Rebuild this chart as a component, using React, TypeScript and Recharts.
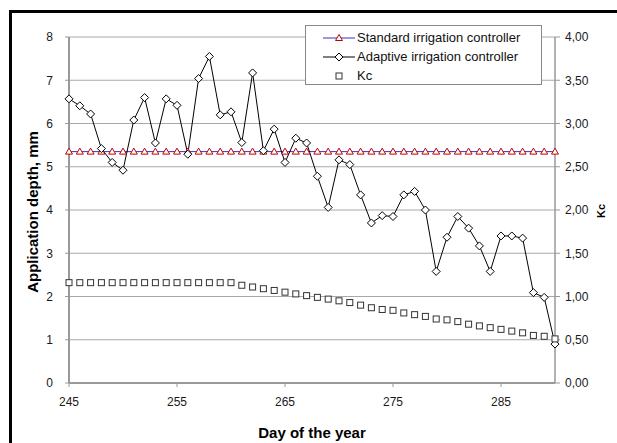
import {
  ComposedChart,
  Line,
  XAxis,
  YAxis,
  CartesianGrid,
  Legend,
} from "recharts";

const DAYS = [
  245, 246, 247, 248, 249, 250, 251, 252, 253, 254, 255, 256, 257, 258, 259, 260,
  261, 262, 263, 264, 265, 266, 267, 268, 269, 270, 271, 272, 273, 274, 275, 276,
  277, 278, 279, 280, 281, 282, 283, 284, 285, 286, 287, 288, 289, 290,
];

const ADAPTIVE = [
  6.57, 6.41, 6.22, 5.42, 5.1, 4.92, 6.08, 6.6, 5.55, 6.57, 6.42, 5.29, 7.04, 7.55, 6.2, 6.27,
  5.56, 7.17, 5.37, 5.87, 5.1, 5.66, 5.55, 4.78, 4.06, 5.16, 5.05, 4.35, 3.7, 3.87, 3.85, 4.35,
  4.43, 4.0, 2.58, 3.37, 3.85, 3.58, 3.17, 2.58, 3.4, 3.4, 3.35, 2.09, 1.98, 0.9,
];

const KC = [
  1.16, 1.16, 1.16, 1.16, 1.16, 1.16, 1.16, 1.16, 1.16, 1.16, 1.16, 1.16, 1.16, 1.16, 1.16, 1.16,
  1.13, 1.11, 1.09, 1.07, 1.05, 1.03, 1.01, 0.99, 0.97, 0.95, 0.93, 0.9, 0.87, 0.85, 0.84, 0.81,
  0.79, 0.77, 0.74, 0.73, 0.71, 0.68, 0.66, 0.64, 0.62, 0.6, 0.58, 0.55, 0.54, 0.51,
];

// the standard controller applies the same depth every day
const STANDARD_DEPTH = 5.35;

const X_TICKS = [245, 255, 265, 275, 285];
const LEFT_TICKS = [0, 1, 2, 3, 4, 5, 6, 7, 8];
const RIGHT_TICKS = [0, 0.5, 1, 1.5, 2, 2.5, 3, 3.5, 4];

const SERIES = [
  { key: "standard", name: "Standard irrigation controller" },
  { key: "adaptive", name: "Adaptive irrigation controller" },
  { key: "kc", name: "Kc" },
];

const data = DAYS.map((day, i) => ({
  day,
  standard: STANDARD_DEPTH,
  adaptive: ADAPTIVE[i],
  kc: KC[i],
}));

const FONT = "'Liberation Sans', Arial, sans-serif";
const AXIS = "#999999";
const GRID = "#a8a8a8";
const TICK = { fontSize: 12, fill: "#1a1a1a", fontFamily: FONT };

function Triangle({ cx, cy }: any) {
  if (cx == null || cy == null) return null;
  return (
    <polygon
      points={`${cx},${cy - 3.5} ${cx - 3.5},${cy + 2.5} ${cx + 3.5},${cy + 2.5}`}
      fill="#fff"
      stroke="#c00000"
      strokeWidth={1}
    />
  );
}

function Diamond({ cx, cy }: any) {
  if (cx == null || cy == null) return null;
  return (
    <polygon
      points={`${cx},${cy - 4} ${cx + 4},${cy} ${cx},${cy + 4} ${cx - 4},${cy}`}
      fill="#fff"
      stroke="#000"
      strokeWidth={1}
    />
  );
}

function Square({ cx, cy }: any) {
  if (cx == null || cy == null) return null;
  return <rect x={cx - 3} y={cy - 3} width={6} height={6} fill="#fff" stroke="#333" strokeWidth={1} />;
}

function LegendSample({ k }: { k: string }) {
  return (
    <svg width={32} height={12} style={{ display: "block" }}>
      {k === "standard" && <line x1={0} y1={6} x2={32} y2={6} stroke="#3333cc" />}
      {k === "adaptive" && <line x1={0} y1={6} x2={32} y2={6} stroke="#000" />}
      {k === "standard" && <Triangle cx={16} cy={6} />}
      {k === "adaptive" && <Diamond cx={16} cy={6} />}
      {k === "kc" && <Square cx={16} cy={6} />}
    </svg>
  );
}

function LegendBox() {
  return (
    <div
      style={{
        boxSizing: "border-box",
        width: 237,
        height: 60,
        border: "1px solid #888",
        background: "#fff",
        padding: "2px 0 0 17px",
        fontFamily: FONT,
        fontSize: 13,
        color: "#111",
      }}
    >
      {SERIES.map((s) => (
        <div key={s.key} style={{ display: "flex", alignItems: "center", height: 19 }}>
          <LegendSample k={s.key} />
          <span style={{ marginLeft: 2 }}>{s.name}</span>
        </div>
      ))}
    </div>
  );
}

const fmtKc = (v: number) => v.toFixed(2).replace(".", ",");

export default function App() {
  return (
    <div style={{ position: "absolute", left: 0, top: 0, width: 617, height: 443, background: "#fff" }}>
      <div
        style={{
          position: "absolute",
          left: 9,
          top: 10,
          width: 620,
          height: 440,
          borderLeft: "3px solid #000",
          borderTop: "3px solid #000",
        }}
      />
      <div style={{ position: "absolute", left: 0, top: 0 }}>
        <ComposedChart
          width={617}
          height={443}
          data={data}
          margin={{ top: 37, right: 22, bottom: 20, left: 24 }}
        >
          <CartesianGrid yAxisId="left" vertical={false} stroke={GRID} strokeWidth={1} />
          <XAxis
            dataKey="day"
            type="number"
            domain={[245, 290]}
            ticks={X_TICKS}
            height={40}
            tick={TICK}
            tickSize={4}
            tickMargin={10}
            stroke={AXIS}
            axisLine={{ stroke: AXIS, strokeWidth: 2 }}
            label={{
              content: () => (
                <text x={312} y={438} textAnchor="middle" fontFamily={FONT} fontSize={15} fontWeight="bold" fill="#000">
                  Day of the year
                </text>
              ),
            }}
          />
          <YAxis
            yAxisId="left"
            domain={[0, 8]}
            ticks={LEFT_TICKS}
            width={45}
            tick={TICK}
            tickSize={4}
            tickMargin={12}
            stroke={AXIS}
            axisLine={{ stroke: AXIS, strokeWidth: 2 }}
            label={{
              content: () => (
                <text
                  x={38}
                  y={212}
                  transform="rotate(-90 38 212)"
                  textAnchor="middle"
                  fontFamily={FONT}
                  fontSize={15}
                  fontWeight="bold"
                  fill="#000"
                >
                  Application depth, mm
                </text>
              ),
            }}
          />
          <YAxis
            yAxisId="right"
            orientation="right"
            domain={[0, 4]}
            ticks={RIGHT_TICKS}
            tickFormatter={fmtKc}
            width={40}
            tick={TICK}
            tickSize={5}
            tickMargin={5}
            stroke={AXIS}
            axisLine={{ stroke: AXIS, strokeWidth: 1.5 }}
            label={{
              content: () => (
                <text
                  x={605}
                  y={211}
                  transform="rotate(-90 605 211)"
                  textAnchor="middle"
                  fontFamily={FONT}
                  fontSize={11}
                  fontWeight="bold"
                  fill="#000"
                >
                  Kc
                </text>
              ),
            }}
          />
          <Legend
            verticalAlign="middle"
            content={() => <LegendBox />}
            wrapperStyle={{ left: 305, top: 25, width: 237, height: 60 }}
          />
          <Line
            yAxisId="left"
            dataKey="standard"
            name={SERIES[0].name}
            stroke="#3333cc"
            strokeWidth={1}
            dot={<Triangle />}
            activeDot={false}
            isAnimationActive={false}
          />
          <Line
            yAxisId="left"
            dataKey="adaptive"
            name={SERIES[1].name}
            stroke="#000"
            strokeWidth={1}
            dot={<Diamond />}
            activeDot={false}
            isAnimationActive={false}
          />
          <Line
            yAxisId="right"
            dataKey="kc"
            name={SERIES[2].name}
            stroke="none"
            dot={<Square />}
            activeDot={false}
            isAnimationActive={false}
          />
        </ComposedChart>
      </div>
    </div>
  );
}
